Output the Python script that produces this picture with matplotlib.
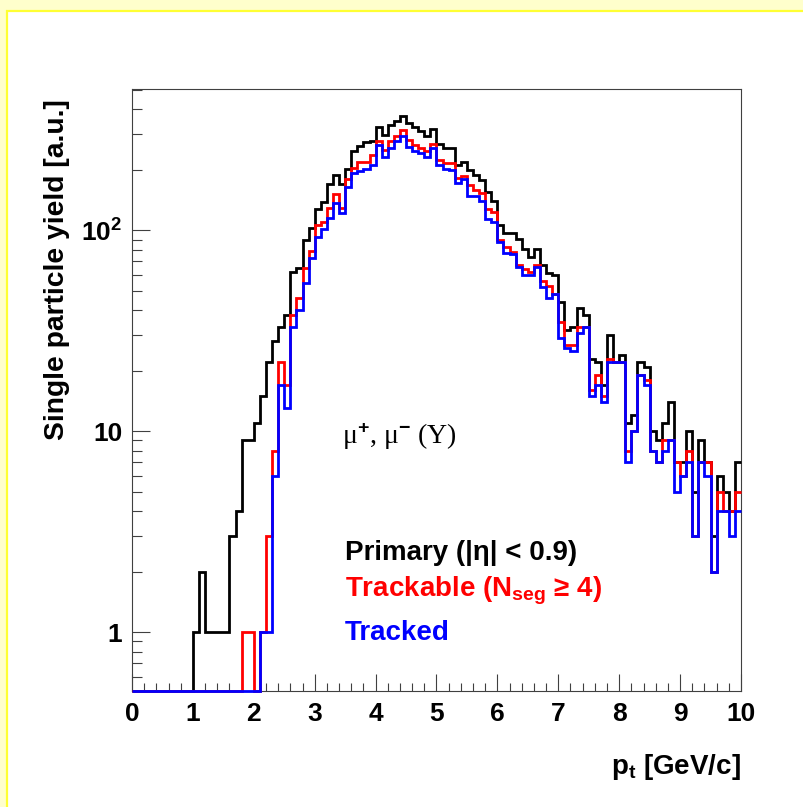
import numpy as np
import matplotlib
matplotlib.use("Agg")
import matplotlib.pyplot as plt
from matplotlib.patches import Rectangle
from matplotlib.ticker import FixedLocator, FixedFormatter, NullFormatter

plt.rcParams['font.family'] = ['Liberation Sans', 'DejaVu Sans']
plt.rcParams['mathtext.fontset'] = 'custom'
plt.rcParams['mathtext.rm'] = 'Liberation Sans:bold'
plt.rcParams['mathtext.bf'] = 'Liberation Sans:bold'
plt.rcParams['mathtext.it'] = 'Liberation Sans:bold'

# ---- data: 100 bins of 0.1 GeV/c from 0 to 10 ----
bin_edges = np.round(np.arange(0, 10.01, 0.1), 2)

primary = [0, 0, 0, 0, 0, 0, 0, 0, 0, 0,
           1, 2, 1, 1, 1, 1, 3, 4, 9, 9,
           11, 15, 22, 28, 33, 38, 62, 65, 89, 103,
           128, 138, 170, 188, 170, 203, 247, 262, 274, 277,
           325, 299, 336, 351, 369, 342, 325, 313, 294, 319,
           269, 257, 257, 211, 220, 199, 189, 177, 155, 140,
           106, 97, 97, 91, 81, 74, 81, 67, 61, 60,
           44, 32, 33, 41, 38, 23, 22, 17, 30, 22,
           24, 11, 12, 22, 21, 10, 9, 11, 14, 7,
           7, 10, 5, 9, 7, 3, 6, 5, 4, 7]

trackable = [0, 0, 0, 0, 0, 0, 0, 0, 0, 0,
             0, 0, 0, 0, 0, 0, 0, 0, 1, 1,
             0, 1, 3, 8, 22, 17, 38, 46, 65, 79,
             106, 110, 129, 152, 129, 180, 204, 220, 220, 238,
             277, 252, 277, 294, 317, 283, 267, 257, 247, 269,
             225, 216, 216, 182, 186, 169, 158, 153, 128, 123,
             90, 83, 78, 67, 64, 62, 67, 56, 53, 48,
             35, 27, 27, 33, 33, 16, 19, 15, 23, 22,
             22, 8, 10, 19, 18, 8, 7, 9, 9, 7,
             6, 8, 3, 7, 7, 2, 5, 4, 4, 5]

tracked = [0, 0, 0, 0, 0, 0, 0, 0, 0, 0,
           0, 0, 0, 0, 0, 0, 0, 0, 0, 0,
           0, 1, 1, 6, 17, 13, 33, 40, 55, 73,
           93, 101, 115, 137, 122, 164, 193, 198, 203, 212,
           265, 233, 257, 279, 294, 259, 249, 243, 231, 257,
           212, 203, 200, 172, 180, 149, 149, 140, 114, 110,
           87, 77, 76, 66, 60, 60, 66, 52, 46, 48,
           29, 26, 25, 31, 33, 15, 17, 14, 22, 22,
           22, 7, 10, 19, 17, 8, 7, 8, 9, 5,
           6, 7, 3, 7, 6, 2, 4, 4, 3, 4]

series_labels = ["Primary (|η| < 0.9)",
                 "Trackable (N$_{\\mathbf{seg}}$ ≥ 4)",
                 "Tracked"]
series_colors = ["#000000", "#ff0000", "#0000ff"]

x_ticks = list(range(0, 11))
y_ticks = [1, 10, 100]
y_ticklabels = ["1", "10", "10$^{\\mathbf{2}}$"]

YMIN, YMAX = 0.51, 505.0

W, H = 804, 807
fig = plt.figure(figsize=(W / 100, H / 100), dpi=100)
fig.patch.set_facecolor('#ffffcc')
fig.patches.append(Rectangle((7.5 / W, -0.01), 1.0, 1 - 10.5 / H + 0.01,
                             transform=fig.transFigure, facecolor='white',
                             edgecolor='#ffff33', linewidth=1.6, zorder=-10))

ax = fig.add_axes([132 / W, 1 - 691 / H, (741 - 132) / W, (691 - 89) / H])
ax.set_facecolor('white')
ax.set_yscale('log')
ax.set_xlim(0, 10)
ax.set_ylim(YMIN, YMAX)

for vals, col in zip([primary, trackable, tracked], series_colors):
    v = np.asarray(vals, dtype=float)
    v = np.where(v > 0, v, YMIN)
    ax.stairs(v, bin_edges, baseline=None, color=col, linewidth=2.0,
              clip_on=False, zorder=3)

# ticks
ax.xaxis.set_major_locator(FixedLocator(x_ticks))
ax.xaxis.set_minor_locator(FixedLocator(np.arange(0, 10.01, 0.2)))
ax.set_xticklabels([str(t) for t in x_ticks])
ax.yaxis.set_major_locator(FixedLocator(y_ticks))
ax.yaxis.set_major_formatter(FixedFormatter(y_ticklabels))
minors = [m * d for d in [0.1, 1, 10, 100] for m in range(2, 10)]
ax.yaxis.set_minor_locator(FixedLocator([m for m in minors if YMIN < m < YMAX]))
ax.yaxis.set_minor_formatter(NullFormatter())

ax.tick_params(axis='x', which='major', direction='in', length=12, width=0.8,
               color='#404040', labelsize=19, pad=8, top=False)
ax.tick_params(axis='x', which='minor', direction='in', length=6, width=0.8,
               color='#404040', top=False)
ax.tick_params(axis='y', which='major', direction='in', length=13, width=0.8,
               color='#404040', labelsize=19, pad=7, right=False)
ax.tick_params(axis='y', which='minor', direction='in', length=7, width=0.8,
               color='#404040', right=False)
for lab in ax.get_xticklabels() + ax.get_yticklabels():
    lab.set_fontweight('bold')
for sp in ax.spines.values():
    sp.set_color('#404040')
    sp.set_linewidth(0.8)

# axis titles
fig.text(57 / W, 1 - 99 / H, "Single particle yield [a.u.]", rotation=90,
         ha='center', va='top', fontsize=20.3, fontweight='bold')
fig.text(741 / W, 1 - 774 / H, "p$_{\\mathbf{t}}$ [GeV/c]", ha='right',
         va='baseline', fontsize=20, fontweight='bold')

# annotations
ax.text(3.45, 8.6, "μ$^{\\mathbf{+}}$, μ$^{\\mathbf{-}}$ (Υ)",
        fontfamily=['Liberation Serif', 'DejaVu Serif'], fontsize=20,
        ha='left', va='baseline')
for lab, col, yv in zip(series_labels, series_colors, [2.30, 1.51, 0.92]):
    ax.text(3.50, yv, lab, color=col, fontsize=20, fontweight='bold',
            ha='left', va='baseline')

fig.savefig("out.png", dpi=100, facecolor=fig.get_facecolor())
